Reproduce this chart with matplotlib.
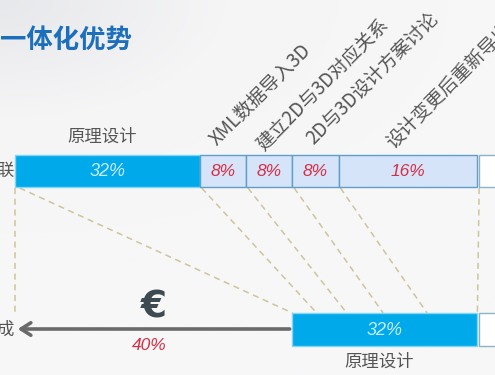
import numpy as np
import matplotlib
matplotlib.use("Agg")
import matplotlib.pyplot as plt
from matplotlib.patches import Rectangle
from matplotlib.colors import LinearSegmentedColormap

plt.rcParams['font.family'] = ['Noto Sans CJK SC', 'DejaVu Sans']

# --- data ---
title = "一体化优势"
step_names = ["原理设计", "XML数据导入3D", "建立2D与3D对应关系", "2D与3D设计方案讨论", "设计变更后重新导出"]
top_labels = ["32%", "8%", "8%", "8%", "16%"]
top_widths = [32, 8, 8, 8, 24]          # drawn widths (slide is not to scale)
bottom_label = "32%"
bottom_width = 32
saved_label = "40%"
# where each top boundary lands on the bottom bar
top_edges = [0, 32, 40, 48, 56, 80]
bottom_edges = [48, 52.2, 57.4, 63.7, 71.3, 80]

# colours
BLUE = "#00a9ea"
LIGHT = "#d5e4f8"
EDGE = "#5f9fc9"
RED = "#d42f45"
GRAY = "#555555"
DASH = "#cfc49a"

# layout in pixels (y) / percent units (x)
PX = 5.78
X0 = 15
TOP_Y0, TOP_Y1 = 155, 187
BOT_Y0, BOT_Y1 = 313, 346
ARROW_Y = 329

fig = plt.figure(figsize=(4.95, 3.75), dpi=100)
ax = fig.add_axes([0, 0, 1, 1])
xmin, xmax = -X0 / PX, (495 - X0) / PX
ax.set_xlim(xmin, xmax)
ax.set_ylim(375, 0)
ax.axis('off')

# soft slide background
yy, xx = np.mgrid[0:1:200j, 0:1:260j]
grad = np.clip(np.sqrt((xx * 1.1) ** 2 + (yy * 1.6) ** 2), 0, 1)
cmap = LinearSegmentedColormap.from_list("bg", ["#e7e8eb", "#f5f5f6", "#f7f7f8"])
ax.imshow(grad, extent=(xmin, xmax, 375, 0), cmap=cmap, aspect='auto', zorder=0)

# title
ax.text(xmin, 40, title, fontsize=19, fontweight='bold', color="#1b6fbd",
        ha='left', va='center', zorder=3)

# top bar
left = 0
starts = []
for i, (w, lab) in enumerate(zip(top_widths, top_labels)):
    starts.append(left)
    if i == 0:
        ax.add_patch(Rectangle((left, TOP_Y0), w, TOP_Y1 - TOP_Y0, facecolor=BLUE,
                               edgecolor="#7fd6f5", lw=1, zorder=2))
        ax.text(left + w / 2, (TOP_Y0 + TOP_Y1) / 2 + 1, lab, color="#c8ecff", fontsize=13,
                style='italic', family='Liberation Sans', ha='center', va='center', zorder=3)
    else:
        ax.add_patch(Rectangle((left, TOP_Y0), w, TOP_Y1 - TOP_Y0, facecolor=LIGHT,
                               edgecolor=EDGE, lw=1, zorder=2))
        ax.text(left + w / 2, (TOP_Y0 + TOP_Y1) / 2 + 1, lab, color=RED, fontsize=12.5,
                style='italic', family='Liberation Sans', ha='center', va='center', zorder=3)
    left += w
# white box after the top bar
ax.add_patch(Rectangle((left + 0.2, TOP_Y0), 10, TOP_Y1 - TOP_Y0, facecolor="white",
                       edgecolor="#8fb3c6", lw=1, zorder=2))

# step names
ax.text(top_widths[0] / 2 - 1, 137, step_names[0], color=GRAY, fontsize=12.5,
        ha='center', va='center', zorder=3)
label_offsets = [2.9, 3.1, 3.5, 9.4]
label_y = [146, 152, 145, 149]
for name, s, off, y in zip(step_names[1:], starts[1:], label_offsets, label_y):
    ax.text(s + off, y, name, color=GRAY, fontsize=13.5, rotation=45,
            rotation_mode='anchor', ha='left', va='baseline', zorder=3)

# dashed connectors
ax.plot([0, 0], [TOP_Y1 + 1, ARROW_Y - 14], color=DASH, lw=1.1, ls=(0, (4, 3)), zorder=1)
for t, b in zip(top_edges, bottom_edges):
    ax.plot([t + (0.8 if t == 0 else 0.3), b], [TOP_Y1 + 1, BOT_Y0], color=DASH, lw=1.1,
            ls=(0, (4, 3)), zorder=1)

# bottom bar
b0 = top_edges[-1] - bottom_width
ax.add_patch(Rectangle((b0, BOT_Y0), bottom_width, BOT_Y1 - BOT_Y0, facecolor=BLUE,
                       edgecolor="#7fd6f5", lw=1, zorder=2))
ax.text(b0 + bottom_width / 2, (BOT_Y0 + BOT_Y1) / 2 + 1, bottom_label, color="#c8ecff",
        fontsize=13, style='italic', family='Liberation Sans', ha='center', va='center', zorder=3)
ax.add_patch(Rectangle((top_edges[-1] + 0.3, BOT_Y0), 10, BOT_Y1 - BOT_Y0, facecolor="white",
                       edgecolor="#8fb3c6", lw=1, zorder=2))
ax.text(b0 + bottom_width / 2 - 1, 362, step_names[0], color=GRAY, fontsize=12.5,
        ha='center', va='center', zorder=3)

# savings arrow
ax.annotate('', xy=(0, ARROW_Y), xytext=(b0, ARROW_Y),
            arrowprops=dict(arrowstyle='->,head_length=0.7,head_width=0.45', lw=2.6,
                            color="#6a6a6a"), zorder=3)
ax.text(b0 / 2, 308, "€", fontsize=27, fontweight='bold', color="#3e4a52", family='DejaVu Sans',
        ha='center', va='center', zorder=3)
ax.text(b0 / 2 - 0.8, 345, saved_label, color=RED, fontsize=12.5, style='italic',
        family='Liberation Sans', ha='center', va='center', zorder=3)

# clipped row labels at left edge
ax.text(xmin + 14 / PX, 171, "联", color=GRAY, fontsize=12.5, ha='right', va='center', zorder=3)
ax.text(xmin + 14 / PX, 330, "成", color=GRAY, fontsize=12.5, ha='right', va='center', zorder=3)

fig.savefig("out.png", dpi=100)
